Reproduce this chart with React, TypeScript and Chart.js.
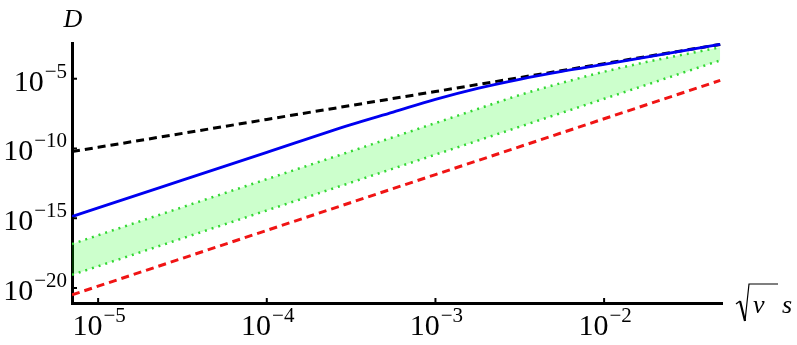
import React, { useEffect, useRef } from 'react';
import { Chart, registerables } from 'chart.js';

Chart.register(...registerables);

// x values (sqrt(nu) s)
const xGrid = [7e-6, 1e-5, 3.16e-5, 1e-4, 3.16e-4, 5.62e-4, 1e-3, 1.78e-3, 3.16e-3, 5.62e-3, 1e-2, 1.78e-2, 3.16e-2, 4.88e-2];
const blueD = [1.32e-15, 5.5e-15, 5.37e-13, 5.25e-11, 5.13e-9, 4.07e-8, 3.31e-7, 2.04e-6, 9.12e-6, 3.35e-5, 1.07e-4, 3.47e-4, 1.17e-3, 2.92e-3];
const upperGreenD = [1.41e-17, 6.03e-17, 6.17e-15, 6.31e-13, 6.31e-11, 6.46e-10, 6.61e-9, 6.76e-8, 6.76e-7, 5.01e-6, 3.16e-5, 1.58e-4, 6.31e-4, 1.78e-3];
const lowerGreenD = [8.7e-20, 3.63e-19, 3.63e-17, 3.63e-15, 3.63e-13, 3.63e-12, 3.63e-11, 3.63e-10, 3.63e-9, 3.63e-8, 3.63e-7, 3.63e-6, 3.63e-5, 2.04e-4];

const lineX = [7e-6, 1e-5, 1e-4, 1e-3, 1e-2, 4.88e-2];
const blackD = [5.94e-11, 1.21e-10, 1.21e-8, 1.21e-6, 1.21e-4, 2.88e-3];
const redD = [3.2e-21, 1.35e-20, 1.35e-16, 1.35e-12, 1.35e-8, 7.6e-6];

const xTicks = [1e-5, 1e-4, 1e-3, 1e-2];
const xTickExp = ['\u22125', '\u22124', '\u22123', '\u22122'];
const yTicks = [1e-5, 1e-10, 1e-15, 1e-20];
const yTickExp = ['\u22125', '\u221210', '\u221215', '\u221220'];

const X_MIN = 7e-6;
const X_MAX = 0.05;
const Y_MIN = 8.4e-22;
const Y_MAX = 3.63e-3;

const SERIF = '"Liberation Serif", "Times New Roman", Times, serif';

function pts(xs: number[], ys: number[]) {
  return xs.map((x, i) => ({ x, y: ys[i] }));
}

function drawPow(ctx: CanvasRenderingContext2D, exp: string, x: number, baseline: number, align: 'right' | 'center') {
  ctx.font = `30px ${SERIF}`;
  const w1 = ctx.measureText('10').width;
  ctx.font = `21px ${SERIF}`;
  const w2 = ctx.measureText(exp).width;
  const gap = 1;
  const total = w1 + gap + w2;
  const x0 = align === 'right' ? x - total : x - total / 2;
  ctx.textAlign = 'left';
  ctx.textBaseline = 'alphabetic';
  ctx.fillStyle = '#000';
  ctx.font = `30px ${SERIF}`;
  ctx.fillText('10', x0, baseline);
  ctx.font = `21px ${SERIF}`;
  ctx.fillText(exp, x0 + w1 + gap, baseline - 13);
}

const axisDecor = {
  id: 'axisDecor',
  afterDraw(chart: any) {
    const ctx: CanvasRenderingContext2D = chart.ctx;
    const xs = chart.scales.x;
    const ys = chart.scales.y;
    const area = chart.chartArea;
    ctx.save();
    ctx.strokeStyle = '#000';
    ctx.lineWidth = 2;
    yTicks.forEach((v, i) => {
      const py = ys.getPixelForValue(v);
      ctx.beginPath();
      ctx.moveTo(area.left, py);
      ctx.lineTo(area.left + 5, py);
      ctx.stroke();
      drawPow(ctx, yTickExp[i], area.left - 5, py + 12, 'right');
    });
    xTicks.forEach((v, i) => {
      const px = xs.getPixelForValue(v);
      ctx.beginPath();
      ctx.moveTo(px, area.bottom);
      ctx.lineTo(px, area.bottom - 5);
      ctx.stroke();
      drawPow(ctx, xTickExp[i], px + 1, area.bottom + 32, 'center');
    });
    // y axis title "D"
    ctx.font = `italic 26px ${SERIF}`;
    ctx.textAlign = 'center';
    ctx.textBaseline = 'alphabetic';
    ctx.fillText('D', area.left + 1, 27);
    // x axis title sqrt(nu) s
    const rx = area.right + 14;
    ctx.lineWidth = 1.3;
    ctx.beginPath();
    ctx.moveTo(rx, 304);
    ctx.lineTo(rx + 4, 301);
    ctx.stroke();
    ctx.lineWidth = 2.2;
    ctx.beginPath();
    ctx.moveTo(rx + 4, 301);
    ctx.lineTo(rx + 9, 321);
    ctx.stroke();
    ctx.lineWidth = 1.2;
    ctx.beginPath();
    ctx.moveTo(rx + 9, 321);
    ctx.lineTo(rx + 13, 284);
    ctx.lineTo(rx + 42, 284);
    ctx.stroke();
    ctx.font = `italic 26px ${SERIF}`;
    ctx.textAlign = 'left';
    ctx.fillText('\u03bd', rx + 17, 313);
    ctx.fillText('s', rx + 46, 313);
    ctx.restore();
  },
};

export default function App() {
  const ref = useRef<HTMLCanvasElement | null>(null);
  useEffect(() => {
    document.body.style.margin = '0';
    const canvas = ref.current;
    if (!canvas) return;
    let alive = true;
    const chart = new Chart(canvas, {
      type: 'line',
      data: {
        datasets: [
          {
            label: 'blue',
            data: pts(xGrid, blueD),
            borderColor: 'rgb(0,0,240)',
            borderWidth: 2.8,
            pointRadius: 0,
            fill: false,
            cubicInterpolationMode: 'monotone',
          },
          {
            label: 'black',
            data: pts(lineX, blackD),
            borderColor: '#000',
            borderWidth: 3,
            borderDash: [8, 5],
            pointRadius: 0,
            fill: false,
          },
          {
            label: 'upper',
            data: pts(xGrid, upperGreenD),
            borderColor: 'rgb(50,215,50)',
            borderWidth: 2.5,
            borderDash: [2, 5],
            pointRadius: 0,
            fill: '+1',
            backgroundColor: 'rgba(0,255,0,0.2)',
            cubicInterpolationMode: 'monotone',
          },
          {
            label: 'lower',
            data: pts(xGrid, lowerGreenD),
            borderColor: 'rgb(50,215,50)',
            borderWidth: 2.5,
            borderDash: [2, 5],
            pointRadius: 0,
            fill: false,
          },
          {
            label: 'red',
            data: pts(lineX, redD),
            borderColor: 'rgb(240,20,20)',
            borderWidth: 3,
            borderDash: [8, 5],
            pointRadius: 0,
            fill: false,
          },
        ],
      },
      options: {
        animation: false,
        responsive: false,
        events: [],
        layout: { padding: { top: 43, right: 75, left: 0, bottom: 0 } },
        plugins: {
          legend: { display: false },
          tooltip: { enabled: false },
          filler: { drawTime: 'beforeDatasetsDraw' },
        },
        scales: {
          x: {
            type: 'logarithmic',
            min: X_MIN,
            max: X_MAX,
            bounds: 'data',
            ticks: { display: false },
            grid: { display: false },
            border: { display: true, color: '#000', width: 3 },
            afterFit: (s: any) => {
              s.height = 42;
            },
          },
          y: {
            type: 'logarithmic',
            min: Y_MIN,
            max: Y_MAX,
            bounds: 'data',
            ticks: { display: false },
            grid: { display: false },
            border: { display: true, color: '#000', width: 3 },
            afterFit: (s: any) => {
              s.width = 72;
            },
          },
        },
      } as any,
      plugins: [axisDecor],
    });
    const fontsApi = (document as any).fonts;
    if (fontsApi && fontsApi.load) {
      Promise.all([
        fontsApi.load('30px "Liberation Serif"'),
        fontsApi.load('italic 26px "Liberation Serif"'),
      ])
        .then(() => {
          if (alive) chart.draw();
        })
        .catch(() => {});
    }
    return () => {
      alive = false;
      chart.destroy();
    };
  }, []);
  return (
    <div style={{ position: 'absolute', left: 0, top: 0, width: 797, height: 345, background: '#fff' }}>
      <span style={{ position: 'absolute', left: -9999, fontFamily: '"Liberation Serif"' }}>10 <i>D ν s</i></span>
      <canvas ref={ref} width={797} height={345} style={{ width: 797, height: 345, display: 'block' }} />
    </div>
  );
}
